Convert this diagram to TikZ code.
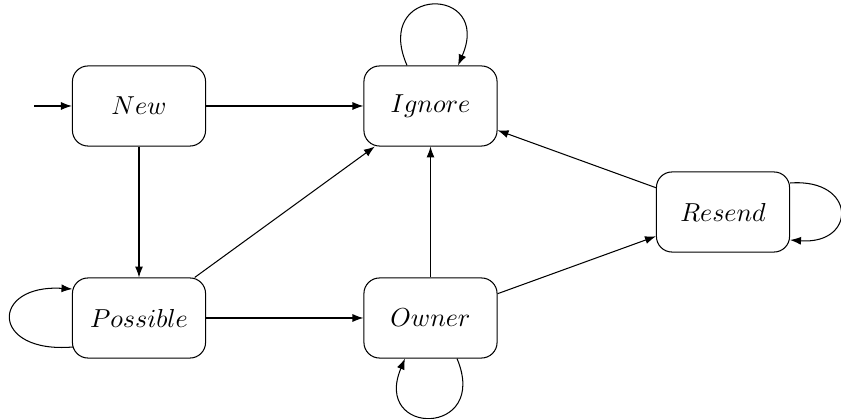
\documentclass[tikz,border=0pt]{standalone}
\usetikzlibrary{arrows.meta,calc}
\begin{document}
\begin{tikzpicture}[x=0.3846pt,y=-0.3846pt,
  state/.style={draw, rounded corners=6pt, minimum width=51.2pt,
    minimum height=30.8pt, inner sep=0pt, line width=0.4pt},
  edge/.style={line width=0.4pt, -{Latex[length=4.2pt,width=3.1pt]}}]
\useasboundingbox (0,0) rectangle (841,419);

% states
\node[state] (new)      at (139,106)   {$New$};
\node[state] (ignore)   at (430.5,106) {$Ignore$};
\node[state] (possible) at (139,318)   {$Possible$};
\node[state] (owner)    at (430.5,318) {$Owner$};
\node[state] (resend)   at (723,212)   {$Resend$};

% initial arrow
\coordinate (start) at (34,106);
\draw[edge] (start) -- (new);

% transitions
\draw[edge] (new) -- (ignore);
\draw[edge] (new) -- (possible);
\draw[edge] (possible) -- (ignore);
\draw[edge] (possible) -- (owner);
\draw[edge] (owner) -- (ignore);
\draw[edge] (owner) -- (resend);
\draw[edge] (resend) -- (ignore);

% self loops
\draw[edge] ($(ignore.north)+(-23.5,0)$) .. controls (372,-15) and (493,-15) .. ($(ignore.north)+(27.5,0)$);
\draw[edge] ($(owner.south)+(26.5,0)$) .. controls (490,437) and (372,437) .. ($(owner.south)+(-25.5,0)$);
\draw[edge] ($(possible.west)+(1,29)$) .. controls (-10,354) and (-10,284) .. ($(possible.west)+(0.5,-29)$);
\draw[edge] ($(resend.east)+(0,-29)$) .. controls (857,178) and (857,245) .. ($(resend.east)+(0,28)$);
\end{tikzpicture}
\end{document}
